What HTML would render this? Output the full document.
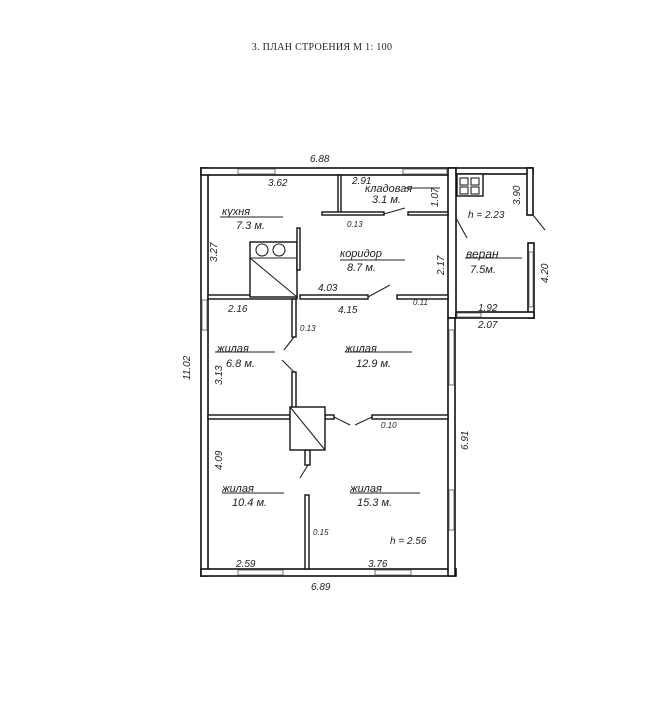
<!DOCTYPE html>
<html><head><meta charset="utf-8"><style>
body{margin:0;background:#fff;width:659px;height:712px;overflow:hidden}
svg text{font-family:"Liberation Sans",sans-serif;font-style:italic;fill:#222}
</style></head><body>
<svg width="659" height="712" viewBox="0 0 659 712" xmlns="http://www.w3.org/2000/svg">
<text x="322" y="50" text-anchor="middle" style="font-family:'Liberation Serif',serif;font-style:normal;font-size:10px;letter-spacing:0.3px" fill="#444">3. ПЛАН СТРОЕНИЯ М 1: 100</text>
<g fill="#fff" stroke="#111" stroke-width="1.6">
<rect x="201" y="168" width="7" height="408"/>
<rect x="201" y="168" width="255" height="7"/>
<rect x="201" y="569" width="255" height="7"/>
<rect x="448" y="168" width="8" height="150"/>
<rect x="448" y="318" width="7" height="258"/>
<rect x="456" y="168" width="77" height="6"/>
<rect x="527" y="168" width="6" height="47"/>
<rect x="528" y="243" width="6" height="75"/>
<rect x="456" y="312" width="78" height="6"/>
</g>
<g fill="#fff" stroke="#555" stroke-width="0.8">
<rect x="238" y="169" width="37" height="5"/>
<rect x="403" y="169" width="44" height="5"/>
<rect x="238" y="570" width="45" height="5"/>
<rect x="375" y="570" width="36" height="5"/>
<rect x="202" y="300" width="5" height="30"/>
<rect x="449" y="330" width="5" height="55"/>
<rect x="449" y="490" width="5" height="40"/>
<rect x="457" y="313" width="24" height="4"/>
<rect x="529" y="252" width="4" height="55"/>
</g>
<g fill="#fff" stroke="#111" stroke-width="1.4">
<rect x="338" y="175" width="3" height="38"/>
<rect x="322" y="212" width="62" height="3"/>
<rect x="408" y="212" width="40" height="3"/>
<rect x="208" y="295" width="89" height="4"/>
<rect x="300" y="295" width="68" height="4"/>
<rect x="397" y="295" width="51" height="4"/>
<rect x="292" y="299" width="4" height="38"/>
<rect x="292" y="372" width="4" height="36"/>
<rect x="208" y="415" width="82" height="4"/>
<rect x="325" y="415" width="9" height="4"/>
<rect x="372" y="415" width="76" height="4"/>
<rect x="305" y="450" width="5" height="15"/>
<rect x="305" y="495" width="4" height="74"/>
<rect x="290" y="407" width="35" height="43"/>
<rect x="250" y="242" width="47" height="55"/>
<rect x="297" y="228" width="3" height="42"/>
<rect x="457" y="174" width="26" height="22"/>
</g>
<g fill="none" stroke="#222" stroke-width="1.1">
<line x1="250" y1="258" x2="297" y2="258"/>
<line x1="250" y1="258" x2="297" y2="297"/>
<circle cx="262" cy="250" r="6"/><circle cx="279" cy="250" r="6"/>
<line x1="290" y1="407" x2="325" y2="450"/>
<rect x="460" y="178" width="8" height="7"/><rect x="471" y="178" width="8" height="7"/>
<rect x="460" y="187" width="8" height="7"/><rect x="471" y="187" width="8" height="7"/>
<line x1="456" y1="218" x2="467" y2="238"/>
<line x1="533" y1="215" x2="545" y2="230"/>
<line x1="384" y1="214" x2="405" y2="208"/>
<line x1="368" y1="297" x2="390" y2="285"/>
<line x1="294" y1="337" x2="284" y2="350"/>
<line x1="294" y1="372" x2="282" y2="360"/>
<line x1="334" y1="417" x2="350" y2="425"/>
<line x1="372" y1="417" x2="355" y2="425"/>
<line x1="308" y1="465" x2="300" y2="478"/>
<line x1="220" y1="217" x2="283" y2="217"/>
<line x1="340" y1="260" x2="405" y2="260"/>
<line x1="465" y1="258" x2="522" y2="258"/>
<line x1="405" y1="188" x2="440" y2="188"/>
<line x1="215" y1="352" x2="275" y2="352"/>
<line x1="345" y1="352" x2="412" y2="352"/>
<line x1="222" y1="493" x2="284" y2="493"/>
<line x1="350" y1="493" x2="420" y2="493"/>
</g>
<g font-size="10">
<text x="310" y="162">6.88</text>
<text x="268" y="186">3.62</text>
<text x="352" y="184">2.91</text>
<text x="365" y="192" font-size="11">кладовая</text>
<text x="372" y="203" font-size="11">3.1 м.</text>
<text x="347" y="227" font-size="8">0.13</text>
<text x="222" y="215" font-size="11">кухня</text>
<text x="236" y="229" font-size="11">7.3 м.</text>
<text x="340" y="257" font-size="11">коридор</text>
<text x="347" y="271" font-size="11">8.7 м.</text>
<text x="318" y="291">4.03</text>
<text x="228" y="312">2.16</text>
<text x="338" y="313">4.15</text>
<text x="413" y="305" font-size="8">0.11</text>
<text x="466" y="258" font-size="12">веран</text>
<text x="470" y="273" font-size="11">7.5м.</text>
<text x="468" y="218">h = 2.23</text>
<text x="478" y="311">1.92</text>
<text x="478" y="328">2.07</text>
<text x="300" y="331" font-size="8">0.13</text>
<text x="217" y="352" font-size="11">жилая</text>
<text x="226" y="367" font-size="11">6.8 м.</text>
<text x="345" y="352" font-size="11">жилая</text>
<text x="356" y="367" font-size="11">12.9 м.</text>
<text x="381" y="428" font-size="8">0.10</text>
<text x="222" y="492" font-size="11">жилая</text>
<text x="232" y="506" font-size="11">10.4 м.</text>
<text x="350" y="492" font-size="11">жилая</text>
<text x="357" y="506" font-size="11">15.3 м.</text>
<text x="313" y="535" font-size="8">0.15</text>
<text x="390" y="544">h = 2.56</text>
<text x="236" y="567">2.59</text>
<text x="368" y="567">3.76</text>
<text x="311" y="590">6.89</text>
<text transform="translate(217,262) rotate(-90)">3.27</text>
<text transform="translate(190,380) rotate(-90)">11.02</text>
<text transform="translate(222,385) rotate(-90)">3.13</text>
<text transform="translate(222,470) rotate(-90)">4.09</text>
<text transform="translate(438,207) rotate(-90)">1.07</text>
<text transform="translate(444,275) rotate(-90)">2.17</text>
<text transform="translate(520,205) rotate(-90)">3.90</text>
<text transform="translate(548,283) rotate(-90)">4.20</text>
<text transform="translate(468,450) rotate(-90)">6.91</text>
</g>
</svg>
</body></html>
